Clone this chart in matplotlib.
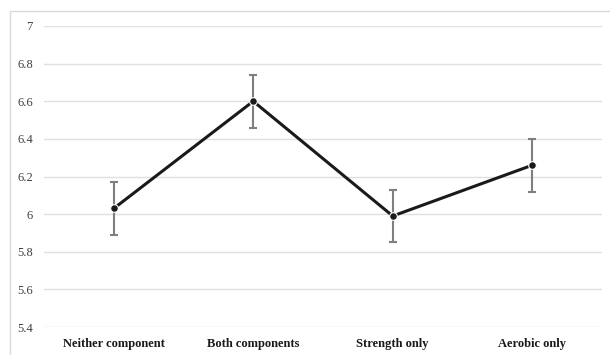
import matplotlib
matplotlib.use("Agg")
import matplotlib.pyplot as plt
from matplotlib.patches import Rectangle

# data
categories = ["Neither component", "Both components", "Strength only", "Aerobic only"]
means = [6.03, 6.60, 5.99, 6.26]
errors = [0.14, 0.14, 0.14, 0.14]
y_ticks = [5.4, 5.6, 5.8, 6.0, 6.2, 6.4, 6.6, 6.8, 7.0]
y_tick_labels = ["5.4", "5.6", "5.8", "6", "6.2", "6.4", "6.6", "6.8", "7"]

plt.rcParams['font.family'] = ['Liberation Serif', 'DejaVu Serif']

fig = plt.figure(figsize=(6.1, 3.55), dpi=100)
ax = fig.add_axes([44 / 610, 1 - 327 / 355, 558 / 610, 301 / 355])

# chart area border (cut off at right / bottom)
fig.patches.append(Rectangle((10 / 610, -0.1), 1.2, 1 - 11 / 355 + 0.1,
                             transform=fig.transFigure, fill=False,
                             edgecolor="#d9d9d9", linewidth=1))

x = list(range(len(categories)))
ax.errorbar(x, means, yerr=errors, fmt="none", ecolor="#7f7f7f",
            elinewidth=1.5, capsize=3, capthick=1.5, zorder=2)
ax.plot(x, means, color="#1a1a1a", linewidth=2.2, zorder=3)
ax.plot(x, means, "o", color="#1a1a1a", markersize=5.5,
        markeredgecolor="white", markeredgewidth=0.8, zorder=4)

ax.set_xlim(-0.5, len(categories) - 0.5)
ax.set_ylim(5.4, 7.0)
ax.set_yticks(y_ticks)
ax.set_yticklabels(y_tick_labels, fontsize=9, color="#404040")
ax.set_xticks(x)
ax.set_xticklabels(categories, fontsize=9, fontweight="bold", color="#1a1a1a")
ax.tick_params(axis="both", length=0)
ax.tick_params(axis="y", pad=8)
ax.tick_params(axis="x", pad=8)
ax.grid(axis="y", color="#e0e0e0", linewidth=1)
ax.set_axisbelow(True)
for s in ax.spines.values():
    s.set_visible(False)

fig.savefig("out.png", dpi=100)
